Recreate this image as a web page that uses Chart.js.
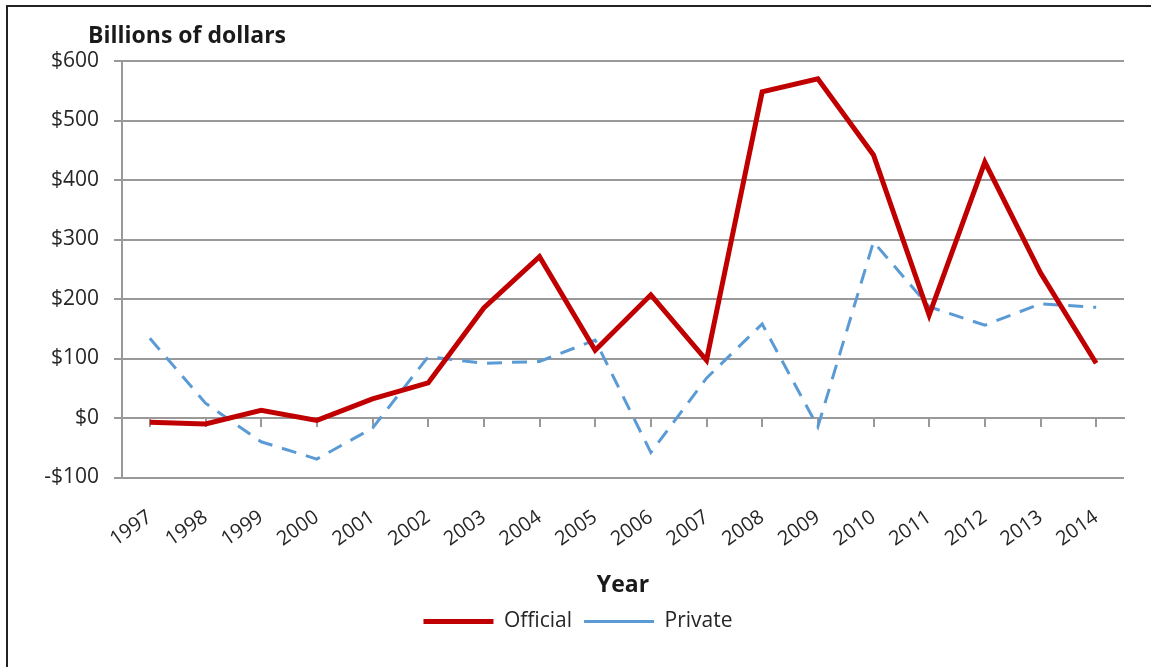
<!DOCTYPE html>
<html>
<head>
<meta charset="utf-8">
<script src="https://cdn.jsdelivr.net/npm/chart.js@4/dist/chart.umd.min.js"></script>
<style>
  html, body { margin: 0; padding: 0; background: #fff; }
  #frame {
    position: absolute; left: 6px; top: 5px; right: -10px; bottom: -10px;
    border-left: 2px solid #222; border-top: 2px solid #222;
  }
  #wrap { position: absolute; left: 0; top: 0; width: 1151px; height: 667px; }
</style>
</head>
<body>
<div id="frame"></div>
<div id="wrap"><canvas id="flows"></canvas></div>
<script>
// capital flows, billions of dollars
const years = ['1997', '1998', '1999', '2000', '2001', '2002', '2003', '2004', '2005',
               '2006', '2007', '2008', '2009', '2010', '2011', '2012', '2013', '2014'];
const official = [-7, -10, 13, -4, 32, 59, 185, 271, 114, 207, 97, 548, 570, 442, 173, 430, 244, 92];
const privateFlows = [134, 25, -40, -69, -17, 103, 92, 95, 131, -58, 67, 158, -15, 296, 187, 156, 192, 186];
const yTicks = [-100, 0, 100, 200, 300, 400, 500, 600];

const FONT = '"Open Sans", "Liberation Sans", sans-serif';
const GRID = '#999999';

function money(v) {
  return v < 0 ? '-$' + Math.abs(v) : '$' + v;
}

// bold unit label sitting above the value axis
const unitLabel = {
  id: 'unitLabel',
  afterDraw(chart) {
    const ctx = chart.ctx;
    ctx.save();
    ctx.font = 'bold 23px ' + FONT;
    ctx.fillStyle = '#1a1a1a';
    ctx.textBaseline = 'alphabetic';
    ctx.fillText('Billions of dollars', chart.chartArea.left - 34, chart.chartArea.top - 18);
    ctx.restore();
  }
};

new Chart(document.getElementById('flows'), {
  type: 'line',
  data: {
    labels: years,
    datasets: [
      {
        label: 'Official',
        data: official,
        borderColor: '#c00000',
        backgroundColor: '#c00000',
        borderWidth: 5,
        pointRadius: 0,
        tension: 0,
        xAxisID: 'x'
      },
      {
        label: 'Private',
        data: privateFlows,
        borderColor: '#5b9bd5',
        backgroundColor: '#5b9bd5',
        borderWidth: 3,
        borderDash: [15, 10],
        pointRadius: 0,
        tension: 0,
        xAxisID: 'x'
      }
    ]
  },
  options: {
    responsive: true,
    maintainAspectRatio: false,
    animation: false,
    devicePixelRatio: 1,
    layout: { padding: { left: 32, right: 27, top: 61, bottom: 25 } },
    plugins: {
      tooltip: { enabled: false },
      legend: {
        position: 'bottom',
        labels: {
          usePointStyle: true,
          pointStyle: 'line',
          pointStyleWidth: 70,
          boxWidth: 70,
          padding: 12,
          color: '#262626',
          font: { family: FONT, size: 21 }
        }
      }
    },
    scales: {
      x: {
        type: 'category',
        position: 'bottom',
        offset: true,
        grid: { display: false },
        border: { display: false },
        ticks: {
          color: '#262626',
          font: { family: FONT, size: 20 },
          minRotation: 35,
          maxRotation: 35,
          padding: 20,
          autoSkip: false
        },
        title: {
          display: true,
          text: 'Year',
          color: '#1a1a1a',
          font: { family: FONT, size: 23, weight: 'bold' },
          padding: { top: 0, bottom: 0 }
        }
      },
      // category axis line drawn through the zero value, ticks hanging down
      xZero: {
        type: 'category',
        labels: years,
        position: { y: 0 },
        offset: true,
        grid: { drawOnChartArea: false, drawTicks: true, tickLength: 8, color: GRID, lineWidth: 2 },
        border: { display: true, color: GRID, width: 2 },
        ticks: { display: false }
      },
      y: {
        min: -100,
        max: 600,
        afterBuildTicks(scale) {
          scale.ticks = yTicks.map(v => ({ value: v }));
        },
        afterFit(scale) { scale.width = 90; },
        grid: { color: GRID, lineWidth: 2, tickLength: 8 },
        border: { display: true, color: GRID, width: 2 },
        ticks: {
          color: '#262626',
          font: { family: FONT, size: 21 },
          padding: 15,
          callback: v => money(v)
        }
      }
    }
  },
  plugins: [unitLabel]
});
</script>
</body>
</html>
